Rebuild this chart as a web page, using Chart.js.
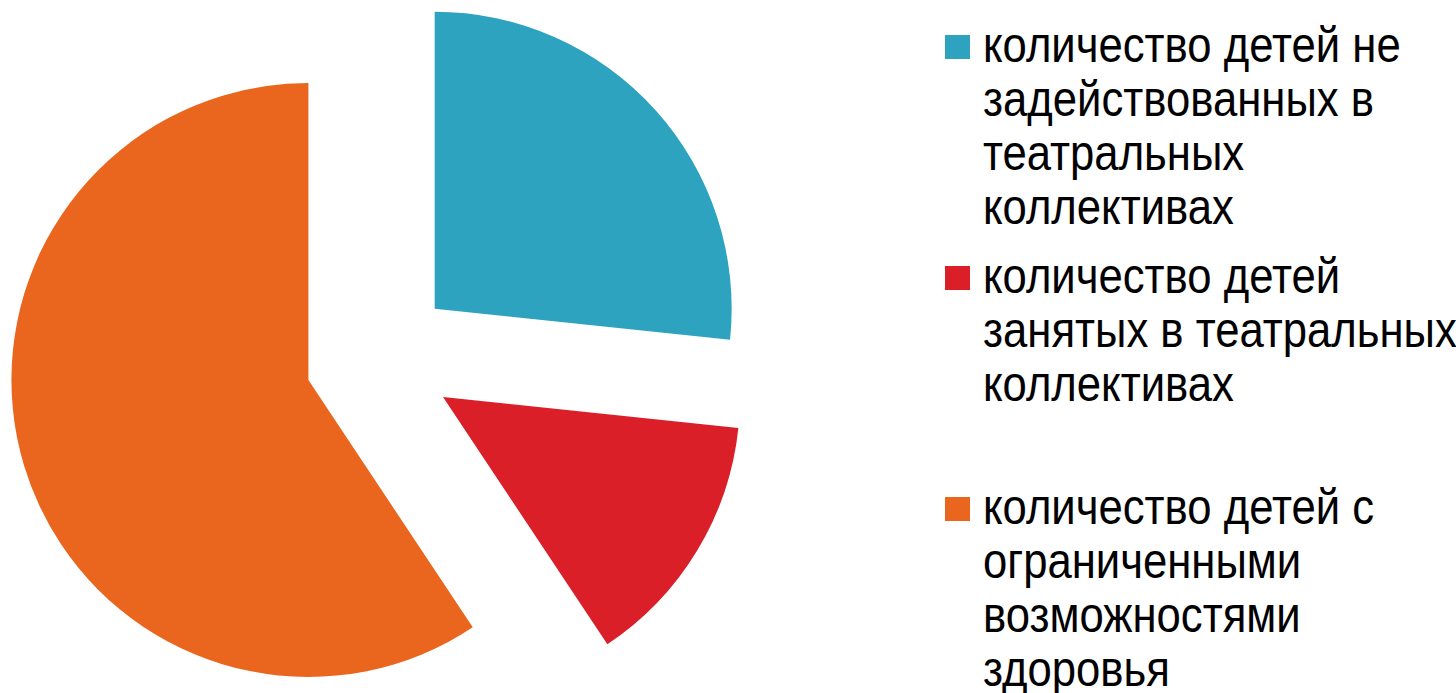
<!DOCTYPE html>
<html lang="ru">
<head>
<meta charset="utf-8">
<title>Театральные коллективы</title>
<script src="https://cdn.jsdelivr.net/npm/chart.js@4.4.1/dist/chart.umd.min.js"></script>
<style>
  html, body { margin: 0; padding: 0; background: #fff; }
  body { width: 1456px; height: 693px; position: relative; overflow: hidden; }
  #wrap { position: absolute; left: 0; top: 0; width: 759px; height: 693px; }
  #legend {
    position: absolute; left: 945px; top: 0; width: 511px; height: 693px;
    font-family: "Liberation Sans", Arial, sans-serif;
    font-size: 50px; line-height: 54px; color: #000;
  }
  .item { position: absolute; left: 0; }
  .item .box { position: absolute; left: 0; top: 17px; width: 25px; height: 24px; }
  .item .txt {
    position: absolute; left: 38px; top: 0; white-space: nowrap;
    transform: scaleX(0.873); transform-origin: 0 0;
  }
</style>
</head>
<body>
<div id="wrap"><canvas id="pieCanvas"></canvas></div>
<div id="legend"></div>
<script>
// categories (legend lines as in the picture)
const categories = [
    ["количество детей не", "задействованных в", "театральных", "коллективах"],
    ["количество детей", "занятых в театральных", "коллективах"],
    ["количество детей с", "ограниченными", "возможностями", "здоровья"]
];
const values = [40, 21, 89];
const colors = ["#2ea3c0", "#da1f29", "#ea661e"];

const pieRadius = 297;
const sliceOffset = 297; // chart.js shifts a slice by offset / 4

// chart.js grows wide slices by offset/4 and trims their outer arc;
// undo both so every slice keeps the same radius and straight edges
const evenRadius = {
    id: "evenRadius",
    afterDatasetUpdate(chart, args) {
        args.meta.data.forEach(arc => {
            const fix = 1 - Math.sin(Math.min(Math.PI, arc.circumference));
            const grow = (sliceOffset / 4) * fix;
            const da = grow / (2 * Math.PI * pieRadius);
            arc.outerRadius = pieRadius - grow;
            arc.startAngle -= da;
            arc.endAngle += da;
        });
    }
};

const htmlLegend = {
    id: "htmlLegend",
    afterUpdate(chart) {
        const legend = document.getElementById("legend");
        legend.innerHTML = "";
        const items = chart.options.plugins.legend.labels.generateLabels(chart);
        items.forEach((item, i) => {
            const row = document.createElement("div");
            row.className = "item";
            row.style.top = (18 + i * 231) + "px";
            const box = document.createElement("span");
            box.className = "box";
            box.style.background = item.fillStyle;
            const txt = document.createElement("span");
            txt.className = "txt";
            const lines = Array.isArray(item.text) ? item.text : [item.text];
            lines.forEach((line, j) => {
                if (j > 0) txt.appendChild(document.createElement("br"));
                txt.appendChild(document.createTextNode(line));
            });
            row.appendChild(box);
            row.appendChild(txt);
            legend.appendChild(row);
        });
    }
};

const pieCanvas = document.getElementById("pieCanvas");

const pieChart = new Chart(pieCanvas, {
    type: "pie",
    data: {
        labels: categories,
        datasets: [
            {
                data: values,
                backgroundColor: colors,
                borderWidth: 0,
                offset: sliceOffset
            }
        ]
    },
    options: {
        responsive: true,
        maintainAspectRatio: false,
        animation: false,
        events: [],
        radius: pieRadius,
        layout: {
            padding: { top: 24 }
        },
        plugins: {
            legend: { display: false },
            tooltip: { enabled: false }
        }
    },
    plugins: [evenRadius, htmlLegend]
});
</script>
</body>
</html>
